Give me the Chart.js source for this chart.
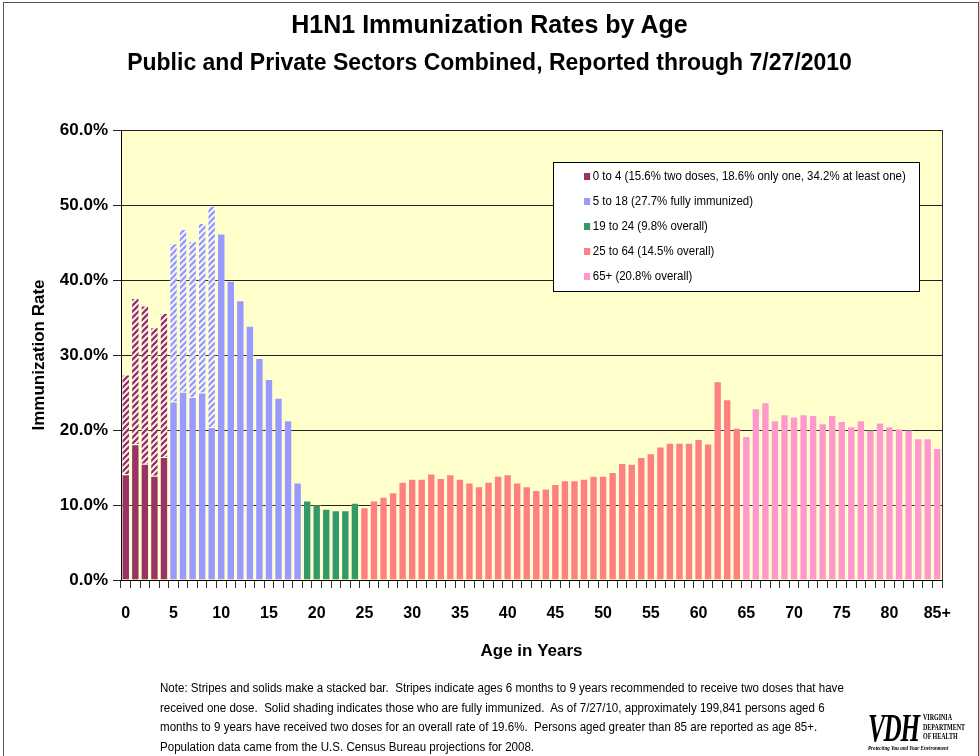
<!DOCTYPE html>
<html lang="en">

<head>
    <meta charset="UTF-8">
    <title>H1N1 Immunization Rates by Age</title>
    <script src="https://cdn.jsdelivr.net/npm/chart.js"></script>
    <style>
        body { margin: 0; background: #fff; font-family: 'Liberation Sans', Arial, sans-serif; }
        .page { position: relative; width: 979px; height: 756px; overflow: hidden; }
        .frame { position: absolute; left: 3px; top: 2px; width: 974px; height: 780px; border: 1px solid #555; }
        #myChart { position: absolute; left: 0; top: 0; }
        .titulo { position: absolute; left: 0; width: 979px; text-align: center; font-weight: bold; color: #000; line-height: 1; white-space: nowrap; }
        .legenda { position: absolute; left: 553px; top: 162px; width: 365px; height: 128px; border: 1px solid #000; background: #fff; }
        .legenda div { position: absolute; left: 30px; font-size: 13px; line-height: 14px; white-space: nowrap; transform: scaleX(0.88); transform-origin: left center; }
        .legenda span { display: inline-block; width: 7px; height: 7px; margin-right: 3px; }
        .nota { position: absolute; left: 160px; top: 679px; font-size: 12.5px; line-height: 19.5px; white-space: nowrap; color: #000; transform: scaleX(0.925); transform-origin: left top; }
        .logo { position: absolute; left: 868px; top: 708px; width: 110px; height: 48px; }
        .vdh { position: absolute; left: 0; top: 0; font-family: 'Liberation Serif', serif; font-weight: bold; font-style: italic; font-size: 40px; line-height: 40px; letter-spacing: -2px; transform: scaleX(0.63); transform-origin: left top; }
        .vdh2 { position: absolute; left: 55px; top: 5px; font-family: 'Liberation Serif', serif; font-weight: bold; font-size: 7.5px; line-height: 9.5px; transform: scaleX(0.8); transform-origin: left top; white-space: nowrap; }
        .vdh3 { position: absolute; left: 0; top: 37px; font-family: 'Liberation Serif', serif; font-style: italic; font-weight: bold; font-size: 6px; white-space: nowrap; transform: scaleX(0.85); transform-origin: left top; }
    </style>
</head>

<body>
    <div class="page">
        <canvas id="myChart" width="979" height="680"></canvas>
        <div class="frame"></div>
        <div class="titulo" style="top: 12px; font-size: 25px;">H1N1 Immunization Rates by Age</div>
        <div class="titulo" style="top: 51px; font-size: 23px;">Public and Private Sectors Combined, Reported through 7/27/2010</div>
        <div class="legenda" id="legenda"></div>
        <div class="nota">
            Note: Stripes and solids make a stacked bar.&nbsp; Stripes indicate ages 6 months to 9 years recommended to receive two doses that have<br>
            received one dose.&nbsp; Solid shading indicates those who are fully immunized.&nbsp; As of 7/27/10, approximately 199,841 persons aged 6<br>
            months to 9 years have received two doses for an overall rate of 19.6%.&nbsp; Persons aged greater than 85 are reported as age 85+.<br>
            Population data came from the U.S. Census Bureau projections for 2008.
        </div>
        <div class="logo">
            <div class="vdh">VDH</div>
            <div class="vdh2">VIRGINIA<br>DEPARTMENT<br>OF HEALTH</div>
            <div class="vdh3">Protecting You and Your Environment</div>
        </div>
    </div>

<script>
    // dados
    const idades = ['0', '1', '2', '3', '4', '5', '6', '7', '8', '9',
        '10', '11', '12', '13', '14', '15', '16', '17', '18', '19',
        '20', '21', '22', '23', '24', '25', '26', '27', '28', '29',
        '30', '31', '32', '33', '34', '35', '36', '37', '38', '39',
        '40', '41', '42', '43', '44', '45', '46', '47', '48', '49',
        '50', '51', '52', '53', '54', '55', '56', '57', '58', '59',
        '60', '61', '62', '63', '64', '65', '66', '67', '68', '69',
        '70', '71', '72', '73', '74', '75', '76', '77', '78', '79',
        '80', '81', '82', '83', '84', '85+'];

    // % totalmente imunizados (parte solida)
    const imunizados = [14.1, 18.1, 15.5, 13.9, 16.4, 23.8, 25.1, 24.4, 25.0, 20.4,
        46.2, 39.9, 37.3, 33.9, 29.6, 26.8, 24.3, 21.3, 13.0, 10.6,
        10.0, 9.5, 9.3, 9.3, 10.3, 9.7, 10.6, 11.1, 11.7, 13.1,
        13.5, 13.5, 14.2, 13.6, 14.1, 13.5, 13.0, 12.5, 13.1, 13.9,
        14.1, 13.0, 12.5, 12.0, 12.2, 12.8, 13.3, 13.3, 13.5, 13.9,
        13.9, 14.4, 15.6, 15.5, 16.4, 16.9, 17.8, 18.3, 18.3, 18.3,
        18.8, 18.2, 26.5, 24.1, 20.3, 19.2, 22.9, 23.7, 21.3, 22.1,
        21.8, 22.1, 22.0, 20.9, 22.0, 21.2, 20.5, 21.3, 20.0, 21.0,
        20.5, 20.2, 20.0, 18.9, 18.9, 17.6];

    // % com apenas uma dose (listras), idades 0 a 9
    const umaDose = [13.3, 19.5, 21.1, 19.8, 19.2, 21.1, 21.7, 20.8, 22.6, 29.5];

    // faixas etarias
    const faixaInicio = [0, 5, 19, 25, 65];
    const faixaLegenda = [
        '0 to 4 (15.6% two doses, 18.6% only one, 34.2% at least one)',
        '5 to 18 (27.7% fully immunized)',
        '19 to 24 (9.8% overall)',
        '25 to 64 (14.5% overall)',
        '65+ (20.8% overall)'
    ];

    const yTicks = [0, 10, 20, 30, 40, 50, 60];
    const xTicksVisiveis = ['0', '5', '10', '15', '20', '25', '30', '35', '40', '45',
        '50', '55', '60', '65', '70', '75', '80', '85+'];

    // estilos
    const coresFaixa = ['#993366', '#9999FF', '#339966', '#FF8080', '#FF99CC'];

    function faixaDe(i) {
        let f = 0;
        for (let k = 0; k < faixaInicio.length; k++) {
            if (i >= faixaInicio[k]) f = k;
        }
        return f;
    }

    function listrado(cor) {
        const c = document.createElement('canvas');
        c.width = 6;
        c.height = 6;
        const g = c.getContext('2d');
        g.fillStyle = '#fff';
        g.fillRect(0, 0, 6, 6);
        g.strokeStyle = cor;
        g.lineWidth = 2.4;
        g.beginPath();
        g.moveTo(-1, 7); g.lineTo(7, -1);
        g.moveTo(-4, 4); g.lineTo(4, -4);
        g.moveTo(2, 10); g.lineTo(10, 2);
        g.stroke();
        return g.createPattern(c, 'repeat');
    }

    const coresSolidas = idades.map((_, i) => coresFaixa[faixaDe(i)]);
    const coresListras = idades.map((_, i) => listrado(coresFaixa[faixaDe(i)]));
    const dadosListras = idades.map((_, i) => i < umaDose.length ? umaDose[i] : null);

    // legenda
    const legenda = document.getElementById('legenda');
    faixaLegenda.forEach(function (txt, k) {
        const d = document.createElement('div');
        d.style.top = (6 + k * 25) + 'px';
        d.innerHTML = '<span style="background:' + coresFaixa[k] + '"></span>' + txt;
        legenda.appendChild(d);
    });

    const fundoAmarelo = {
        id: 'fundoAmarelo',
        beforeDraw(chart) {
            const a = chart.chartArea;
            const ctx = chart.ctx;
            ctx.save();
            ctx.fillStyle = '#FFFFCC';
            ctx.fillRect(a.left, a.top, a.right - a.left, a.bottom - a.top);
            ctx.restore();
        },
        afterDraw(chart) {
            const a = chart.chartArea;
            const ctx = chart.ctx;
            ctx.save();
            ctx.strokeStyle = '#333';
            ctx.lineWidth = 1;
            ctx.beginPath();
            ctx.moveTo(a.right + 0.5, a.top);
            ctx.lineTo(a.right + 0.5, a.bottom);
            ctx.stroke();
            ctx.restore();
        }
    };

    const fonte = "'Liberation Sans', Arial, sans-serif";

    const chartData = {
        labels: idades,
        datasets: [{
            label: 'Fully immunized',
            data: imunizados,
            backgroundColor: coresSolidas,
            borderColor: 'rgba(255,255,255,0.3)',
            borderWidth: 1,
            barPercentage: 0.88,
            categoryPercentage: 1
        }, {
            label: 'One dose only',
            data: dadosListras,
            backgroundColor: coresListras,
            borderColor: 'rgba(255,255,255,0.3)',
            borderWidth: 1,
            barPercentage: 0.88,
            categoryPercentage: 1
        }]
    };

    const options = {
        responsive: false,
        animation: false,
        devicePixelRatio: 1,
        layout: { padding: { top: 130, right: 37, left: 0, bottom: 0 } },
        plugins: {
            legend: { display: false },
            tooltip: { enabled: false }
        },
        scales: {
            x: {
                stacked: true,
                afterFit: function (s) { s.height = 100; },
                grid: { display: true, drawOnChartArea: false, drawTicks: true, tickLength: 8, color: '#333', offset: true },
                border: { color: '#000', width: 1 },
                ticks: {
                    autoSkip: false,
                    maxRotation: 0,
                    padding: 16,
                    color: '#000',
                    font: { family: fonte, size: 16, weight: 'bold' },
                    callback: function (v, i) {
                        const l = idades[i];
                        return xTicksVisiveis.includes(l) ? l : '';
                    }
                },
                title: {
                    display: true,
                    text: 'Age in Years',
                    color: '#000',
                    font: { family: fonte, size: 17, weight: 'bold' },
                    padding: { top: 0, bottom: 18 }
                }
            },
            y: {
                stacked: true,
                min: 0,
                max: 60,
                afterFit: function (s) { s.width = 121; },
                afterBuildTicks: function (s) { s.ticks = yTicks.map(v => ({ value: v })); },
                grid: { color: '#222', lineWidth: 1, tickLength: 8 },
                border: { color: '#000', width: 1 },
                ticks: {
                    padding: 5,
                    color: '#000',
                    font: { family: fonte, size: 17, weight: 'bold' },
                    callback: function (v) { return v.toFixed(1) + '%'; }
                },
                title: {
                    display: true,
                    text: 'Immunization Rate',
                    color: '#000',
                    font: { family: fonte, size: 17, weight: 'bold' },
                    padding: { top: 29, bottom: 0 }
                }
            }
        }
    };

    const myChart = new Chart(document.getElementById('myChart'), {
        type: 'bar',
        data: chartData,
        options: options,
        plugins: [fundoAmarelo]
    });
</script>
</body>

</html>
